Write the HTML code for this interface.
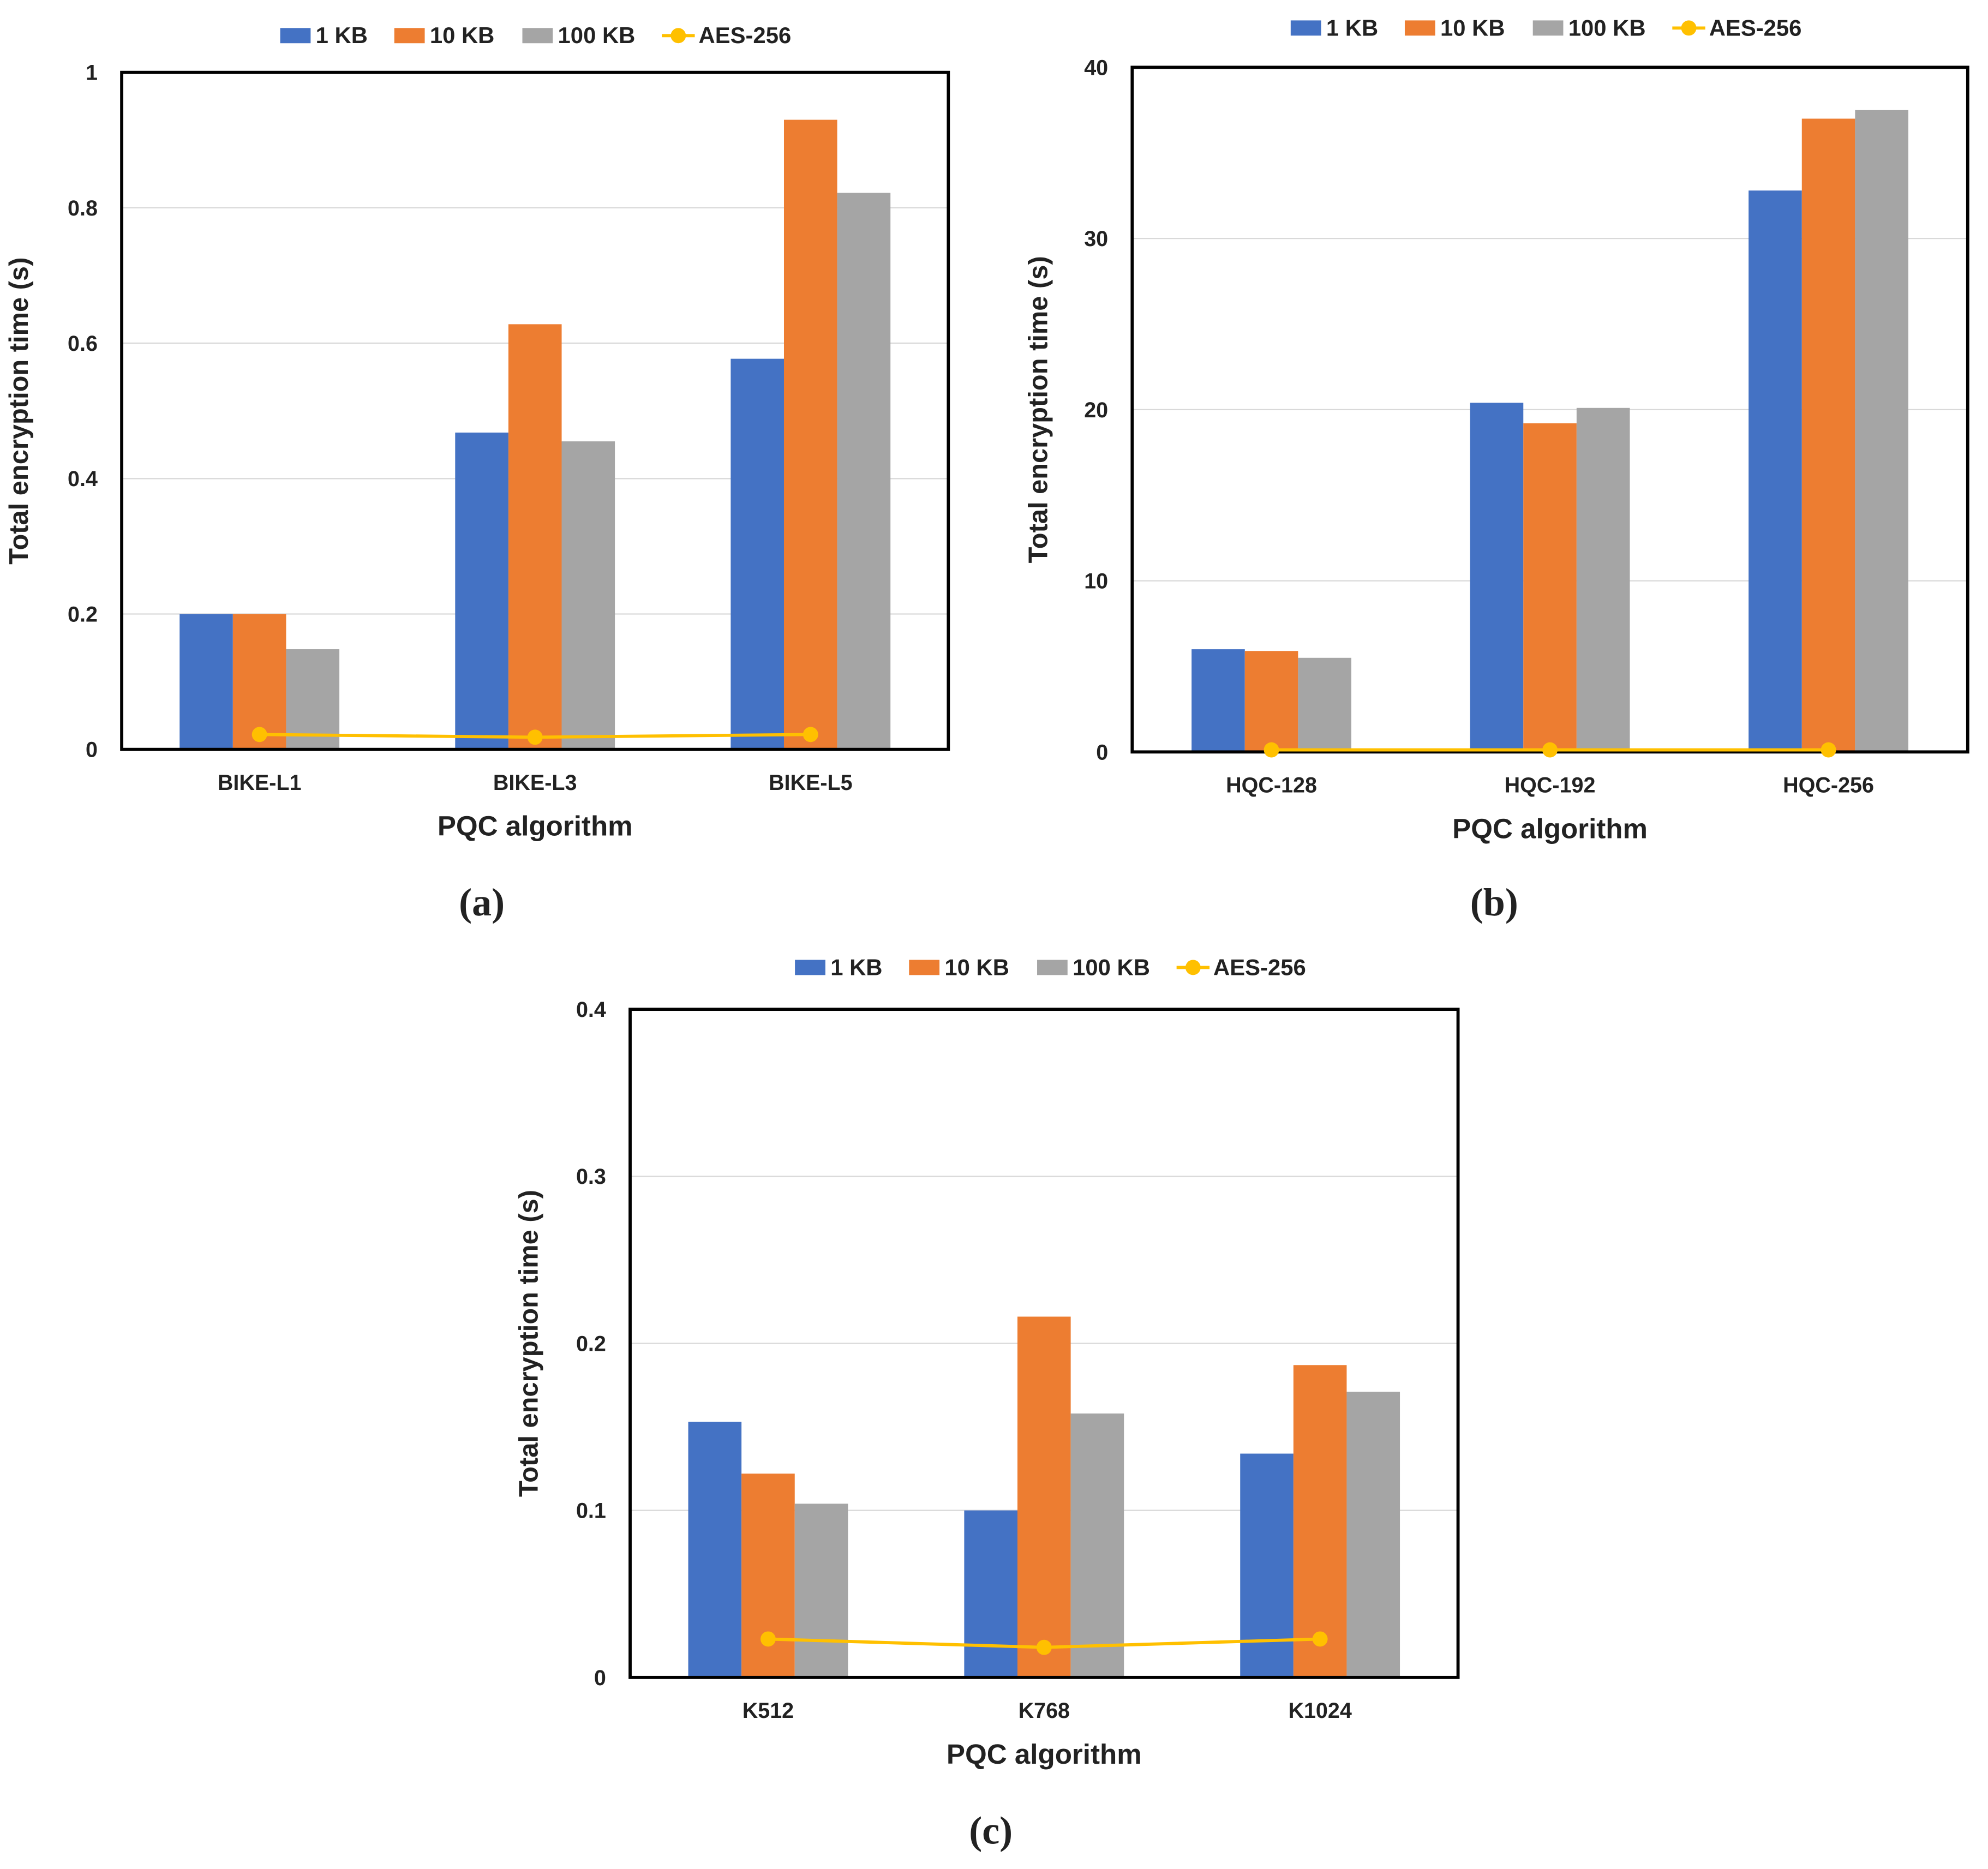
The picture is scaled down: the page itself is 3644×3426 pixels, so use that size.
<!DOCTYPE html>
<html><head><meta charset="utf-8"><style>
html,body{margin:0;padding:0;background:#fff}
svg{display:block}
text{font-family:"Liberation Sans",sans-serif;font-weight:bold;fill:#222}
</style></head><body>
<svg id="fig" width="3644" height="3426" viewBox="0 0 1568 1474" xmlns="http://www.w3.org/2000/svg"></svg>
<script>
const seriesNames = ["1 KB","10 KB","100 KB"];
const colors = ["#4472C4","#ED7D31","#A5A5A5"];
const catsA = ["BIKE-L1","BIKE-L3","BIKE-L5"];
const a1KB = [0.2,0.468,0.577];
const a10KB = [0.2,0.628,0.93];
const a100KB = [0.148,0.455,0.822];
const aAES = [0.022,0.018,0.022];
const ticksA = [0,0.2,0.4,0.6,0.8,1];
const ticksALabels = ["0","0.2","0.4","0.6","0.8","1"];
const catsB = ["HQC-128","HQC-192","HQC-256"];
const b1KB = [6.0,20.4,32.8];
const b10KB = [5.9,19.2,37.0];
const b100KB = [5.5,20.1,37.5];
const bAES = [0.12,0.12,0.12];
const ticksB = [0,10,20,30,40];
const ticksBLabels = ["0","10","20","30","40"];
const catsC = ["K512","K768","K1024"];
const c1KB = [0.153,0.1,0.134];
const c10KB = [0.122,0.216,0.187];
const c100KB = [0.104,0.158,0.171];
const cAES = [0.023,0.018,0.023];
const ticksC = [0,0.1,0.2,0.3,0.4];
const ticksCLabels = ["0","0.1","0.2","0.3","0.4"];

const NS="http://www.w3.org/2000/svg";
const svg=document.getElementById('fig');
function mk(tag,attrs,parent,txt){const e=document.createElementNS(NS,tag);for(const k in attrs)e.setAttribute(k,attrs[k]);if(txt!==undefined)e.textContent=txt;(parent||svg).appendChild(e);return e;}

function panel(id,L,R,T,B,ymax,cats,series,aes,ticks,tickLabels,legY,legX,ylabX,label,labY){
  const g=mk('g',{});
  
  
  const y=v=>B-(v/ymax)*(B-T);
  const band=(R-L)/cats.length;
  const cx=i=>L+band*(i+0.5);
  const bw=42;
  ticks.forEach((t,i)=>{
    if(t>0&&t<ymax){const gl=mk('line',{x1:L,x2:R,y1:y(t),y2:y(t),stroke:'#d9d9d9','stroke-width':1},g);
      
      }
    const tl=mk('text',{x:L-19,y:y(t)+6,'text-anchor':'end','font-size':17},g,tickLabels[i]);
    
    
  });
  series.forEach((s,si)=>{
    s.forEach((v,i)=>{
      const r=mk('rect',{x:cx(i)+(si-1.5)*bw,y:y(v),width:bw,height:B-y(v),fill:colors[si]},g);
      
      
    });
  });
  const fr=mk('rect',{x:L,y:T,width:R-L,height:B-T,fill:'none',stroke:'#000','stroke-width':2.5},g);
  
  
  const pts=aes.map((v,i)=>cx(i)+','+y(v)).join(' ');
  const pl=mk('polyline',{points:pts,fill:'none',stroke:'#FFC000','stroke-width':2.5},g);
  
  
  aes.forEach((v,i)=>{const c=mk('circle',{cx:cx(i),cy:y(v),r:6,fill:'#FFC000'},g);
    
    });
  cats.forEach((c,i)=>{const t=mk('text',{x:cx(i),y:B+32,'text-anchor':'middle','font-size':17},g,c);
    
    });
  const xt=mk('text',{x:(L+R)/2,y:B+68,'text-anchor':'middle','font-size':22},g,'PQC algorithm');
  
  
  const yt=mk('text',{x:ylabX,y:(T+B)/2,'text-anchor':'middle','font-size':21,transform:'rotate(-90 '+ylabX+' '+(T+B)/2+')'},g,'Total encryption time (s)');
  
  
  const offs=[0,90,191];
  seriesNames.forEach((n,si)=>{
    const lx=legX+offs[si];
    const lr=mk('rect',{x:lx,y:legY-6,width:24,height:12,fill:colors[si]},g);
    
    
    const lt=mk('text',{x:lx+28,y:legY+6,'font-size':18},g,n);
    
    
  });
  const ax=legX+301;
  const ll=mk('line',{x1:ax,x2:ax+26,y1:legY,y2:legY,stroke:'#FFC000','stroke-width':2.5},g);
  
  
  mk('circle',{cx:ax+13,cy:legY,r:6,fill:'#FFC000'},g);
  const at=mk('text',{x:ax+29,y:legY+6,'font-size':18},g,'AES-256');
  
  
  const pt=mk('text',{x:(L+R)/2-42+(id==='b'?-2:0),y:labY,'text-anchor':'middle','font-size':31,style:'font-family:"Liberation Serif",serif;font-weight:bold'},g,label);
  
  
}
panel('a',96,748,57,591,1,catsA,[a1KB,a10KB,a100KB],aAES,ticksA,ticksALabels,28,221,22,'(a)',722);
panel('b',893,1552,53,593,40,catsB,[b1KB,b10KB,b100KB],bAES,ticksB,ticksBLabels,22,1018,826,'(b)',722);
panel('c',497,1150,796,1323,0.4,catsC,[c1KB,c10KB,c100KB],cAES,ticksC,ticksCLabels,763,627,424,'(c)',1454);
</script>
</body></html>
